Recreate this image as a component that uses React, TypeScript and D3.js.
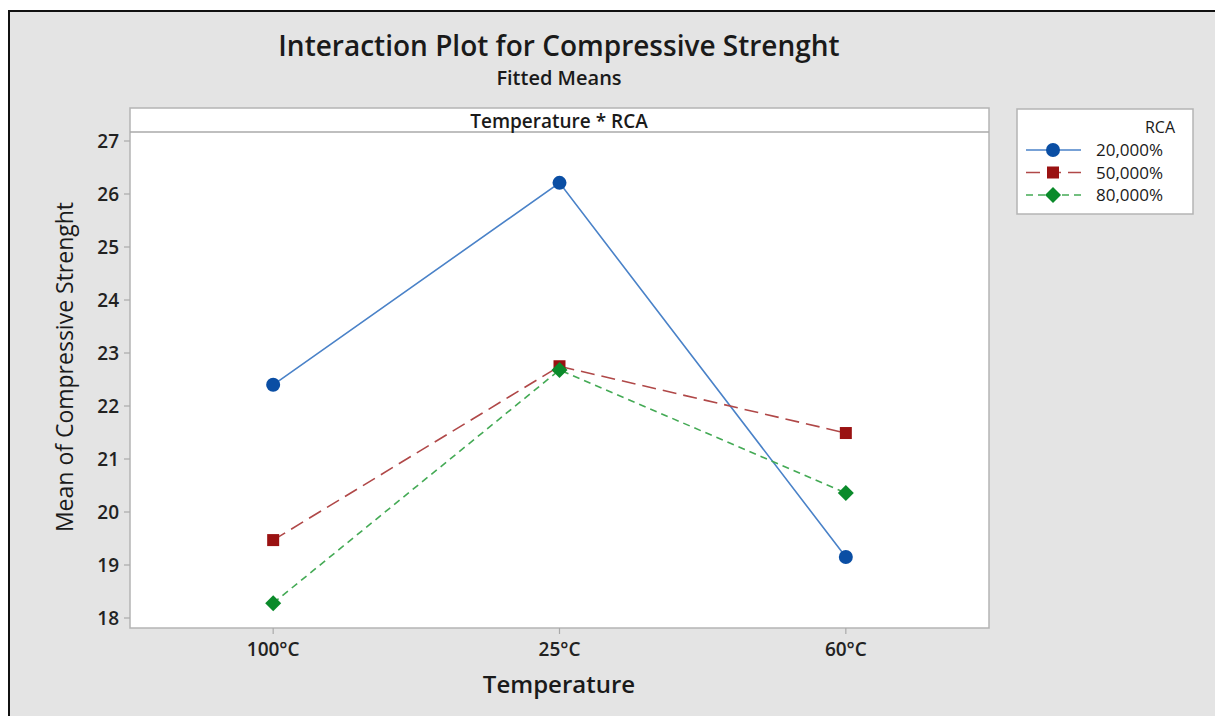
import React from "react";
import * as d3 from "d3";

const categories = ["100°C", "25°C", "60°C"];
const seriesNames = ["20,000%", "50,000%", "80,000%"];
const rca20 = [22.4, 26.21, 19.15];
const rca50 = [19.47, 22.75, 21.49];
const rca80 = [18.28, 22.68, 20.36];
const yTicks = [18, 19, 20, 21, 22, 23, 24, 25, 26, 27];

const W = 1215;
const H = 716;
const FONT = "'Open Sans', 'Noto Sans', sans-serif";

const plot = { left: 130, right: 989, top: 108, strip: 132, bottom: 628 };

const styles = [
  { line: "#4a82c8", fill: "#0a4ea4", dash: "none", width: 1.6, marker: "circle" },
  { line: "#b04848", fill: "#9a1212", dash: "14,7", width: 1.6, marker: "square" },
  { line: "#44aa55", fill: "#0a8a2a", dash: "7,5", width: 1.6, marker: "diamond" },
];

function Marker({ kind, x, y, fill }: { kind: string; x: number; y: number; fill: string }) {
  if (kind === "circle") return <circle cx={x} cy={y} r={7} fill={fill} />;
  if (kind === "square") return <rect x={x - 6} y={y - 6} width={12} height={12} fill={fill} />;
  const s = 8;
  return <polygon points={`${x},${y - s} ${x + s},${y} ${x},${y + s} ${x - s},${y}`} fill={fill} />;
}

export default function App() {
  const x = d3.scalePoint<string>().domain(categories).range([plot.left, plot.right]).padding(0.5);
  const y = d3.scaleLinear().domain([18, 27]).range([618, 141]);
  const data = [rca20, rca50, rca80];
  const line = d3
    .line<number>()
    .x((_, i) => x(categories[i]) as number)
    .y((d) => y(d));

  return (
    <svg
      width={W}
      height={H}
      style={{ position: "absolute", left: 0, top: 0, fontFamily: FONT }}
    >
      <rect x={0} y={0} width={W} height={H} fill="#ffffff" />
      <rect x={9} y={11} width={W + 20} height={H + 20} fill="#e4e4e4" stroke="#111" strokeWidth={2} />

      <text x={559} y={56} textAnchor="middle" fontSize={28} fontWeight={600} fill="#1a1a1a">
        Interaction Plot for Compressive Strenght
      </text>
      <text x={559} y={85} textAnchor="middle" fontSize={20} fontWeight={600} fill="#1a1a1a">
        Fitted Means
      </text>

      {/* plot area */}
      <rect
        x={plot.left}
        y={plot.top}
        width={plot.right - plot.left}
        height={plot.bottom - plot.top}
        fill="#ffffff"
        stroke="#b4b4b4"
        strokeWidth={1.5}
      />
      <line x1={plot.left} x2={plot.right} y1={plot.strip} y2={plot.strip} stroke="#aaaaaa" strokeWidth={1.5} />
      <text x={559} y={128} textAnchor="middle" fontSize={19} fontWeight={600} fill="#1a1a1a">
        Temperature * RCA
      </text>

      {/* y axis */}
      {yTicks.map((t) => (
        <g key={t}>
          <line x1={plot.left - 6} x2={plot.left} y1={y(t)} y2={y(t)} stroke="#aaaaaa" strokeWidth={1.2} />
          <text x={plot.left - 11} y={y(t) + 6.5} textAnchor="end" fontSize={19} fontWeight={600} fill="#222">
            {t}
          </text>
        </g>
      ))}
      <text
        transform={`translate(73,367) rotate(-90)`}
        textAnchor="middle"
        fontSize={23}
        fontWeight={500}
        fill="#1a1a1a"
      >
        Mean of Compressive Strenght
      </text>

      {/* x axis */}
      {categories.map((c) => (
        <g key={c}>
          <line x1={x(c)} x2={x(c)} y1={plot.bottom} y2={plot.bottom + 6} stroke="#aaaaaa" strokeWidth={1.2} />
          <text x={x(c)} y={656} textAnchor="middle" fontSize={19} fontWeight={600} fill="#222">
            {c}
          </text>
        </g>
      ))}
      <text x={559} y={693} textAnchor="middle" fontSize={24} fontWeight={600} fill="#1a1a1a">
        Temperature
      </text>

      {/* series */}
      {data.map((vals, si) => (
        <g key={si}>
          <path
            d={line(vals) as string}
            fill="none"
            stroke={styles[si].line}
            strokeWidth={styles[si].width}
            strokeDasharray={styles[si].dash}
          />
        </g>
      ))}
      {data.map((vals, si) => (
        <g key={"m" + si}>
          {vals.map((v, i) => (
            <Marker key={i} kind={styles[si].marker} x={x(categories[i]) as number} y={y(v)} fill={styles[si].fill} />
          ))}
        </g>
      ))}

      {/* legend */}
      <rect x={1017} y={109} width={176} height={105} fill="#ffffff" stroke="#b4b4b4" strokeWidth={1.5} />
      <text x={1175} y={133} textAnchor="end" fontSize={16} fontWeight={500} fill="#1a1a1a">
        RCA
      </text>
      {seriesNames.map((n, i) => {
        const ly = 150 + i * 22.5;
        return (
          <g key={n}>
            <line
              x1={1026}
              x2={1081}
              y1={ly}
              y2={ly}
              stroke={styles[i].line}
              strokeWidth={styles[i].width}
              strokeDasharray={styles[i].dash}
            />
            <Marker kind={styles[i].marker} x={1053} y={ly} fill={styles[i].fill} />
            <text x={1096} y={ly + 6} fontSize={17} fontWeight={500} fill="#1a1a1a">
              {n}
            </text>
          </g>
        );
      })}
    </svg>
  );
}
